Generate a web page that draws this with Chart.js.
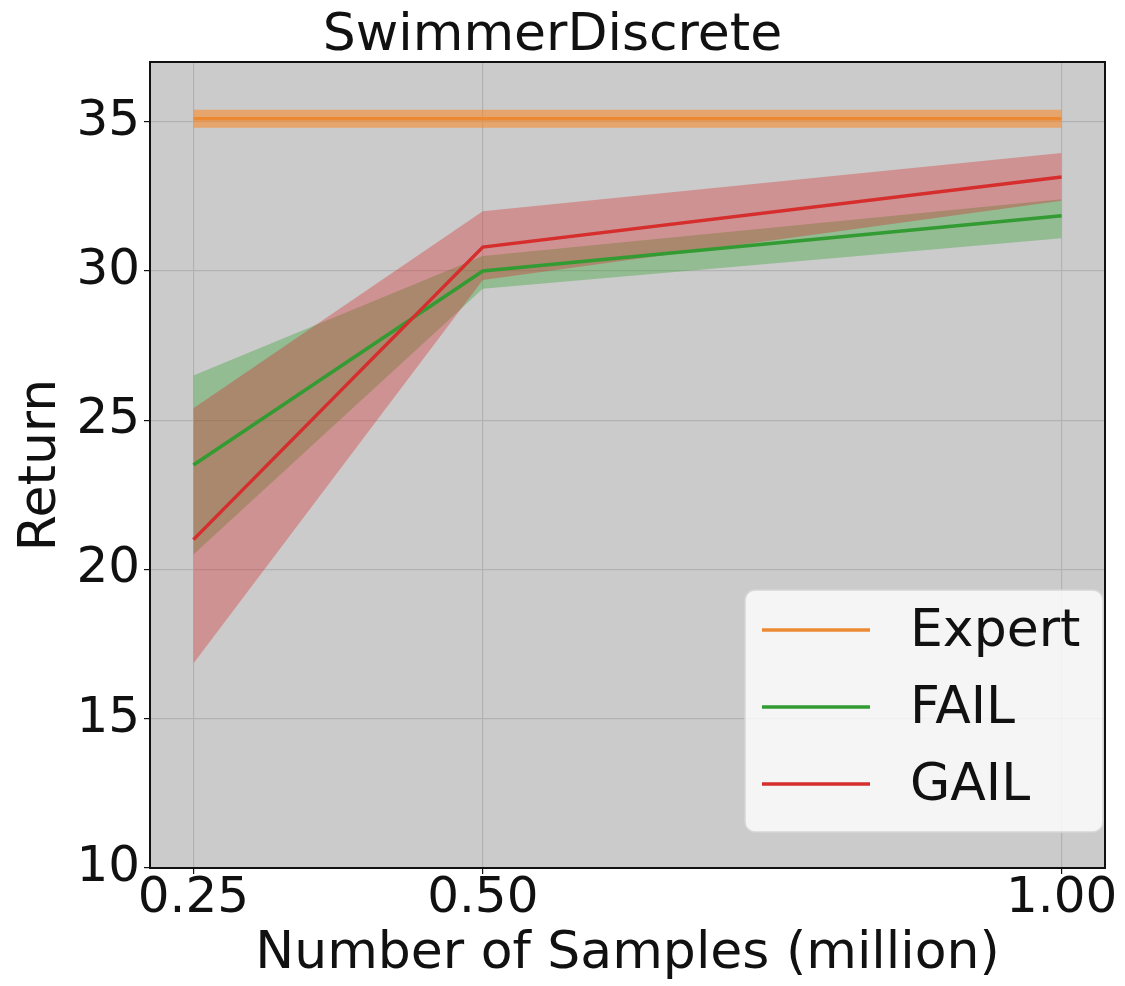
<!DOCTYPE html>
<html>
<head>
<meta charset="utf-8">
<script src="https://cdn.jsdelivr.net/npm/chart.js@4"></script>
<style>
  html, body { margin: 0; padding: 0; background: #fff; }
  #wrap { width: 1125px; height: 986px; }
</style>
</head>
<body>
<div id="wrap"><canvas id="chart" width="1125" height="986"></canvas></div>
<script>
// samples in million
const samples = [0.25, 0.5, 1.0];
const xTicks = [0.25, 0.5, 1.0];
const yTicks = [10, 15, 20, 25, 30, 35];

// mean return and the shaded band (lower / upper)
const expertMean = [35.1, 35.1, 35.1];
const expertLow = [34.8, 34.8, 34.8];
const expertHigh = [35.4, 35.4, 35.4];

const failMean = [23.5, 30.0, 31.85];
const failLow = [20.5, 29.4, 31.1];
const failHigh = [26.5, 30.5, 32.4];

const gailMean = [21.0, 30.8, 33.15];
const gailLow = [16.85, 29.7, 32.35];
const gailHigh = [25.4, 32.0, 33.95];

const FONT = "'DejaVu Sans', sans-serif";

const series = [
  { name: "Expert", color: "rgb(236,138,52)", band: "rgba(255,127,14,0.5)", mean: expertMean, low: expertLow, high: expertHigh },
  { name: "FAIL", color: "rgb(50,155,50)", band: "rgba(44,160,44,0.35)", mean: failMean, low: failLow, high: failHigh },
  { name: "GAIL", color: "rgb(214,45,45)", band: "rgba(214,39,40,0.35)", mean: gailMean, low: gailLow, high: gailHigh },
];

function toPoints(arr) {
  return arr.map((v, i) => ({ x: samples[i], y: v }));
}

// bands first (lower edge + upper edge filled to it), mean lines on top
function createDataSets() {
  let bands = [];
  let lines = [];
  for (const s of series) {
    bands.push({ data: toPoints(s.low), borderWidth: 0, pointRadius: 0, fill: false });
    bands.push({ data: toPoints(s.high), borderWidth: 0, pointRadius: 0, fill: "-1", backgroundColor: s.band });
    lines.push({ data: toPoints(s.mean), borderColor: s.color, borderWidth: 3.5, pointRadius: 0, fill: false });
  }
  const sets = bands.concat(lines);
  sets.forEach((d, i) => { d.order = sets.length - i; d.tension = 0; });
  return sets;
}

const frame = {
  id: "frame",
  beforeDraw(chart) {
    const { ctx, chartArea: a } = chart;
    ctx.save();
    ctx.fillStyle = "#cbcbcb";
    ctx.fillRect(a.left, a.top, a.right - a.left, a.bottom - a.top);
    ctx.restore();
  },
  afterDraw(chart) {
    const { ctx, chartArea: a } = chart;
    ctx.save();
    // spines
    ctx.strokeStyle = "#111";
    ctx.lineWidth = 2;
    ctx.strokeRect(a.left, a.top, a.right - a.left, a.bottom - a.top);

    // legend box inside the axes, lower right
    const bx = 745, by = 590, bw = 358, bh = 242, r = 10;
    ctx.beginPath();
    ctx.moveTo(bx + r, by);
    ctx.arcTo(bx + bw, by, bx + bw, by + bh, r);
    ctx.arcTo(bx + bw, by + bh, bx, by + bh, r);
    ctx.arcTo(bx, by + bh, bx, by, r);
    ctx.arcTo(bx, by, bx + bw, by, r);
    ctx.closePath();
    ctx.fillStyle = "rgba(255,255,255,0.8)";
    ctx.fill();
    ctx.strokeStyle = "#d6d6d6";
    ctx.lineWidth = 1.5;
    ctx.stroke();

    ctx.font = "52px " + FONT;
    ctx.textBaseline = "middle";
    ctx.fillStyle = "#111";
    series.forEach((s, i) => {
      const y = 630 + i * 77;
      ctx.strokeStyle = s.color;
      ctx.lineWidth = 3.5;
      ctx.beginPath();
      ctx.moveTo(762, y);
      ctx.lineTo(870, y);
      ctx.stroke();
      ctx.fillText(s.name, 910, y + 2);
    });
    ctx.restore();
  },
};

new Chart(document.getElementById("chart"), {
  type: "line",
  data: { datasets: createDataSets() },
  plugins: [frame],
  options: {
    responsive: false,
    animation: false,
    layout: { padding: { right: 20, top: 0, left: 0, bottom: 0 } },
    plugins: {
      legend: { display: false },
      tooltip: { enabled: false },
      title: {
        display: true,
        text: "SwimmerDiscrete",
        color: "#111",
        font: { family: FONT, size: 52, weight: "normal", lineHeight: 1.0 },
        padding: { top: 10, bottom: 0 },
      },
    },
    scales: {
      x: {
        type: "linear",
        min: 0.2125,
        max: 1.0375,
        afterBuildTicks: (scale) => { scale.ticks = xTicks.map((v) => ({ value: v })); },
        afterFit: (scale) => { scale.height = 118; },
        ticks: {
          color: "#111",
          padding: -5,
          font: { family: FONT, size: 50 },
          callback: (v) => v.toFixed(2),
          maxRotation: 0,
        },
        grid: { color: "#b2b2b2", lineWidth: 1.2, tickColor: "#111", tickLength: 6 },
        border: { display: false },
        title: {
          display: true,
          text: "Number of Samples (million)",
          color: "#111",
          font: { family: FONT, size: 52 },
          padding: { top: 0, bottom: 0 },
        },
      },
      y: {
        min: 10,
        max: 37,
        afterBuildTicks: (scale) => { scale.ticks = yTicks.map((v) => ({ value: v })); },
        afterFit: (scale) => { scale.width = 150; },
        ticks: {
          color: "#111",
          padding: 4,
          font: { family: FONT, size: 50 },
        },
        grid: { color: "#b2b2b2", lineWidth: 1.2, tickColor: "#111", tickLength: 6 },
        border: { display: false },
        title: {
          display: true,
          text: "Return",
          color: "#111",
          font: { family: FONT, size: 52 },
          padding: { top: 10, bottom: 0 },
        },
      },
    },
  },
});
</script>
</body>
</html>
